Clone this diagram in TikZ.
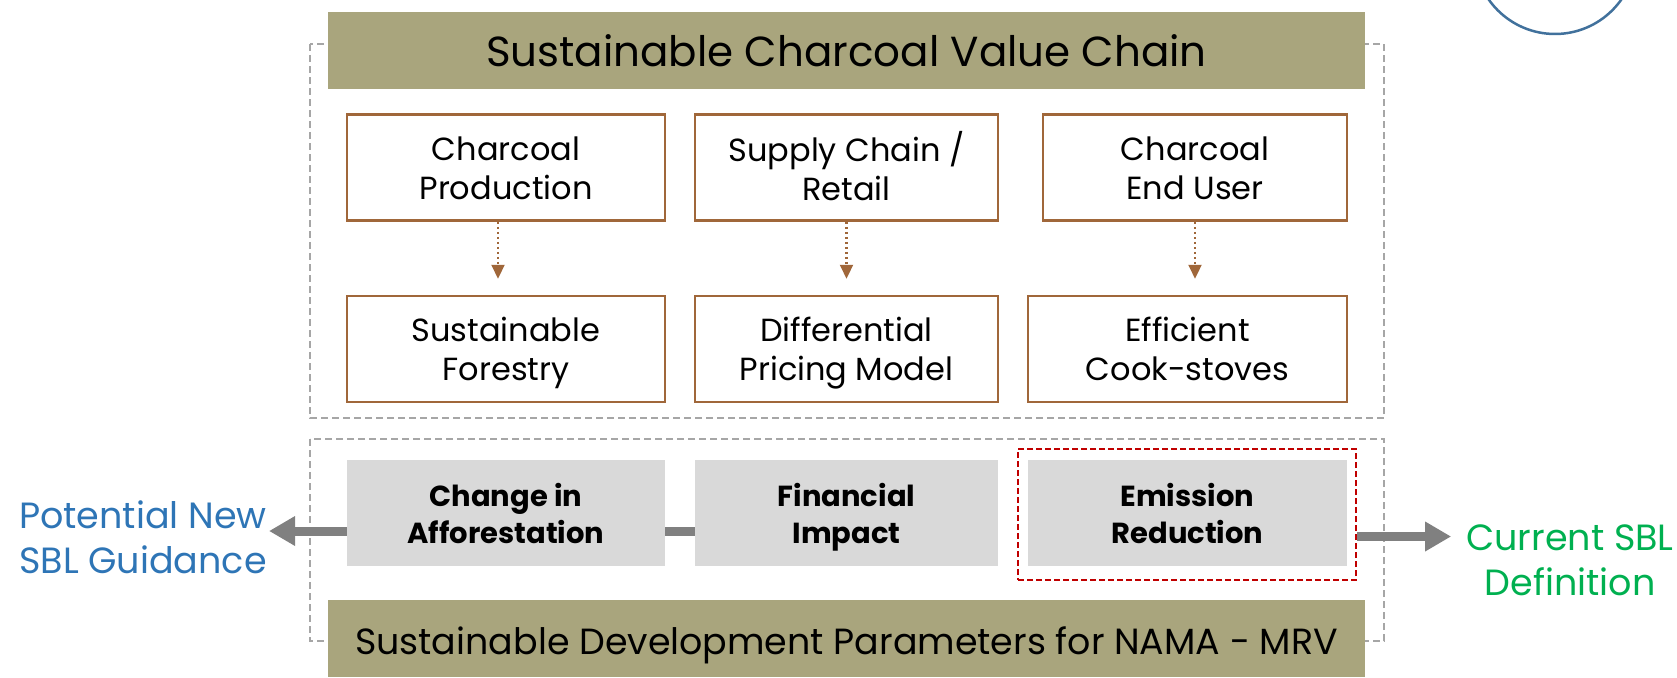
\documentclass[tikz,border=0pt]{standalone}
\usepackage{fontspec}
\setmainfont{Poppins}
\usetikzlibrary{arrows.meta}
\definecolor{barolive}{HTML}{A9A57D}
\definecolor{boxbrown}{HTML}{A0673A}
\definecolor{boxgray}{HTML}{D9D9D9}
\definecolor{arrowgray}{HTML}{808080}
\definecolor{dashgray}{HTML}{A6A6A6}
\definecolor{dashred}{HTML}{C00000}
\definecolor{sblblue}{HTML}{2E75B6}
\definecolor{sblgreen}{HTML}{00B050}
\definecolor{circblue}{HTML}{41719C}
% two centred lines, lowered by #1 without changing the box extents
\newcommand\downlines[2]{\raisebox{#1}[\height][\depth]{\begin{tabular}{@{}c@{}}#2\end{tabular}}}
\tikzset{
  titlebar/.style={fill=barolive, draw=none, inner sep=0pt, minimum width=1037pt, minimum height=76pt, font=\fontsize{42}{50}\selectfont},
  chainbox/.style={draw=boxbrown, line width=2.5pt, fill=white, inner sep=0pt, minimum height=106pt, font=\fontsize{32}{39}\selectfont},
  parambox/.style={fill=boxgray, draw=none, inner sep=0pt, minimum height=106pt, font=\fontsize{29}{37}\selectfont\bfseries},
  groupbox/.style={draw=dashgray, line width=2pt, dash pattern=on 7pt off 4pt},
  focusbox/.style={draw=dashred, line width=2.5pt, dash pattern=on 6pt off 3pt},
  dotarrow/.style={draw=boxbrown, line width=2.2pt, dash pattern=on 2.5pt off 2.5pt, -{Triangle[length=14pt,width=13pt,sep=0pt]}, shorten >=16pt},
  blockarrow/.style={draw=arrowgray, line width=9pt, -{Triangle[length=26pt,width=28pt]}},
  blockline/.style={draw=arrowgray, line width=9pt},
  sbltext/.style={inner sep=0pt, font=\fontsize{36.5}{45}\selectfont}
}
\begin{document}
\begin{tikzpicture}[x=1pt,y=-1pt]
\useasboundingbox (0,0) rectangle (1677,677);
% dashed group frames
\draw[groupbox] (310,44) rectangle (1384,418);
\draw[groupbox] (310,439) rectangle (1384,641);
% title bars
\node[titlebar] (title) at (846.5,50.5) {Sustainable Charcoal Value Chain};
\node[titlebar, minimum height=77pt, text height=40pt, text depth=8pt, font=\fontsize{36.4}{45}\selectfont] (params) at (846.5,638.5) {Sustainable Development Parameters for NAMA - MRV};
% value chain boxes
\node[chainbox, minimum width=318pt] (b1) at (506,167.5) {\downlines{-4.5pt}{Charcoal\\Production}};
\node[chainbox, minimum width=303pt] (b2) at (846.5,167.5) {\downlines{-4.5pt}{Supply Chain /\\Retail}};
\node[chainbox, minimum width=304pt] (b3) at (1195,167.5) {\downlines{-4.5pt}{Charcoal\\End User}};
\node[chainbox, minimum width=318pt] (b4) at (506,349) {\downlines{-4.5pt}{Sustainable\\Forestry}};
\node[chainbox, minimum width=303pt] (b5) at (846.5,349) {\downlines{-4.5pt}{Differential\\Pricing Model}};
\node[chainbox, minimum width=319pt] (b6) at (1187.5,349) {\downlines{-4.5pt}{Efficient\\Cook-stoves}};
\draw[dotarrow] ([xshift=-8pt]b1.south) -- ([xshift=-8pt]b1.south |- b4.north);
\draw[dotarrow] (b2.south) -- (b2.south |- b5.north);
\draw[dotarrow] (b3.south) -- (b3.south |- b6.north);
% parameter boxes
\node[parambox, minimum width=318pt] (g1) at (506,513) {\downlines{-4.5pt}{Change in\\Afforestation}};
\node[parambox, minimum width=303pt] (g2) at (846.5,513) {\downlines{-4.5pt}{Financial\\Impact}};
\node[parambox, minimum width=319pt] (g3) at (1187.5,513) {\downlines{-4.5pt}{Emission\\Reduction}};
\node[focusbox, minimum width=338pt, minimum height=131pt, inner sep=0pt] (focus) at (1187,514.5) {};
% side labels
\node[sbltext, text=sblblue] (newsbl) at (143,537) {\downlines{-4.5pt}{Potential New\\SBL Guidance}};
\node[sbltext, text=sblgreen] (cursbl) at (1570,560) {\downlines{-3.5pt}{Current SBL\\Definition}};
\draw[blockline] ([yshift=-18pt]g1.east) -- ([yshift=-18pt]g2.west);
\draw[blockarrow] ([yshift=-18pt]g1.west) -- ([yshift=-18pt,xshift=2pt]g1.west -| newsbl.east);
\draw[blockarrow] ([yshift=-22pt]focus.east) -- ([yshift=-22pt,xshift=-15pt]focus.east -| cursbl.west);
% partial circle at top right
\begin{scope}
\clip (0,0) rectangle (1677,677);
\draw[circblue, line width=2.5pt] (1555,-47) circle (81);
\end{scope}
\end{tikzpicture}
\end{document}
